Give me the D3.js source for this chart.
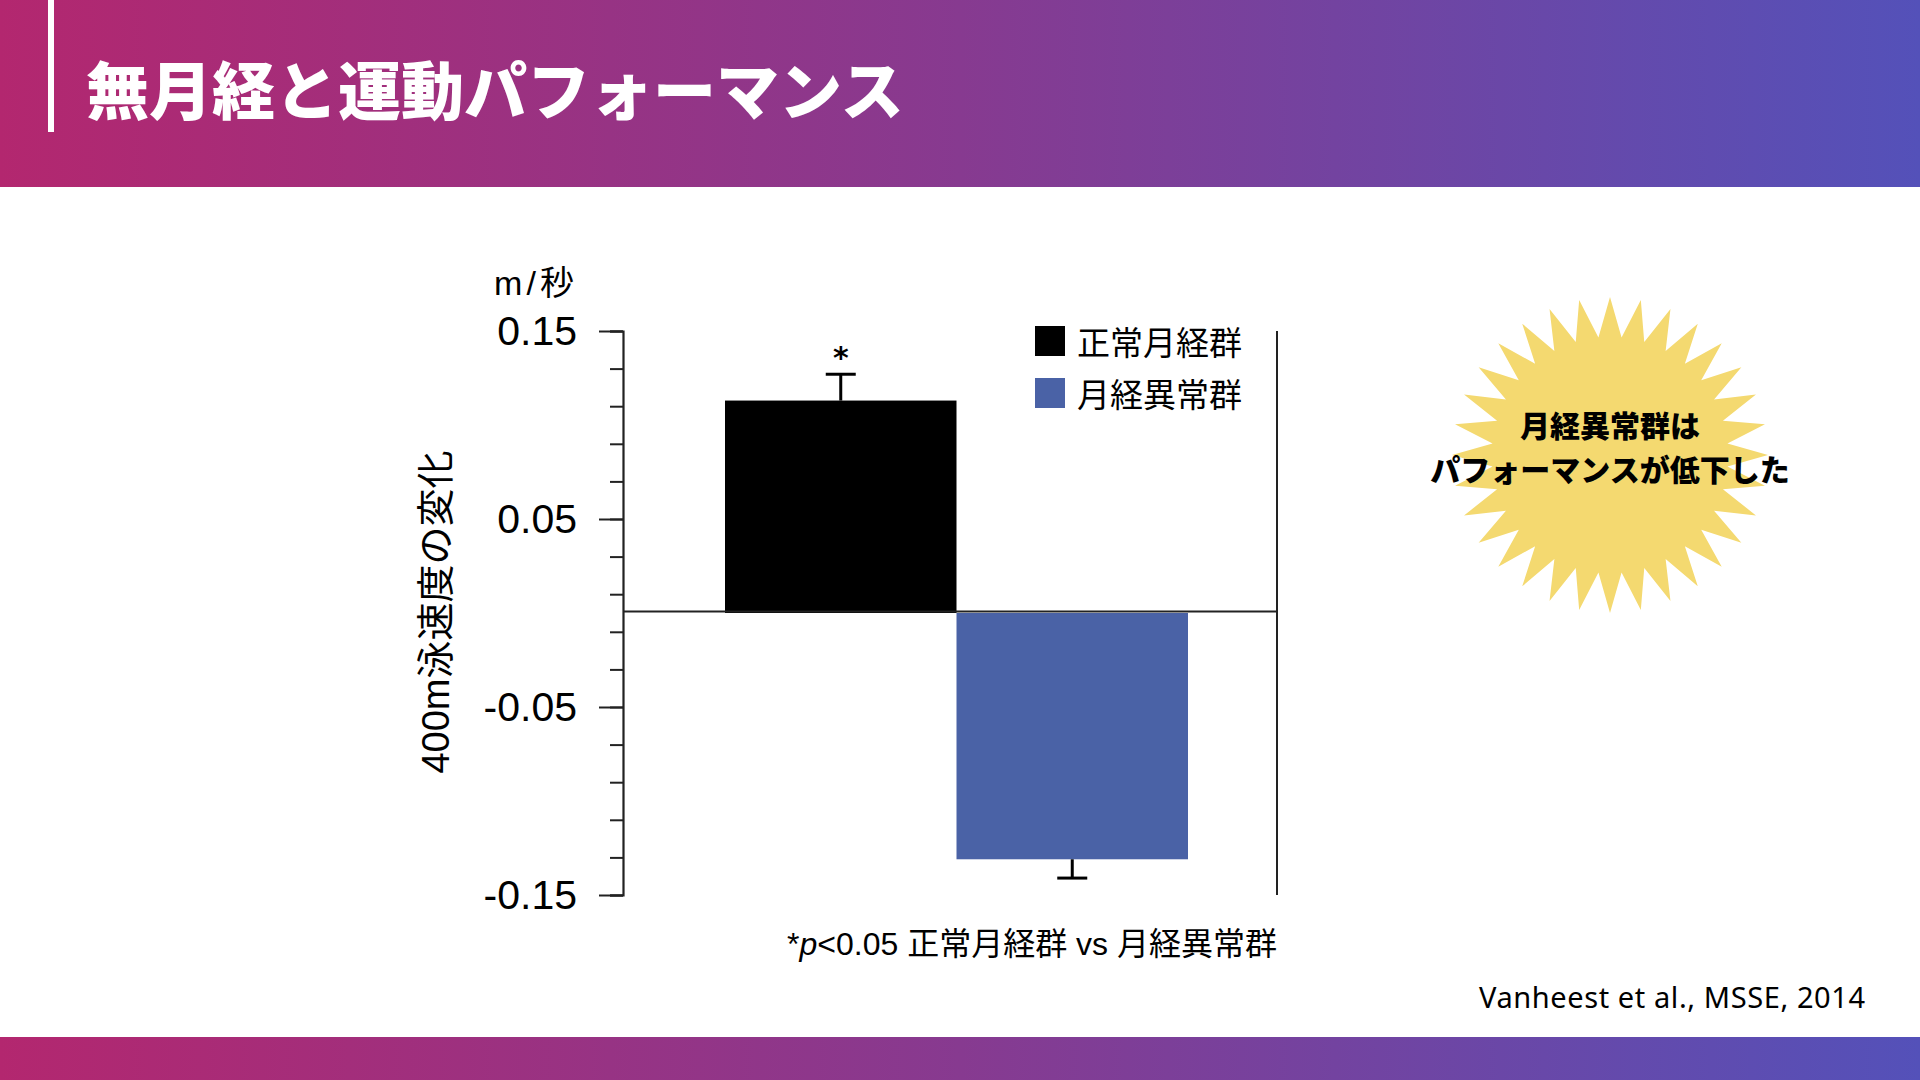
<!DOCTYPE html>
<html>
<head>
<meta charset="utf-8">
<script src="https://cdn.jsdelivr.net/npm/d3@7"></script>
<style>
  html, body { margin: 0; padding: 0; background: #fff; }
  svg { display: block; }
</style>
</head>
<body>
<svg id="chart" width="1920" height="1080"></svg>
<script>
// ---- data ----
const categories = ["正常月経群", "月経異常群"];
const means = [0.113, -0.131];
const errors = [0.014, 0.010];
const significant = [true, false];
const barColors = ["#000000", "#4A62A6"];
const majorTicks = [0.15, 0.05, -0.05, -0.15];
const majorTickLabels = ["0.15", "0.05", "-0.05", "-0.15"];
const minorTicks = [0.15, 0.13, 0.11, 0.09, 0.07, 0.05, 0.03, 0.01, -0.01, -0.03, -0.05, -0.07, -0.09, -0.11, -0.13, -0.15];
const titleText = "無月経と運動パフォーマンス";
const yUnit = "m/秒";
const yTitle = "400m泳速度の変化";
const calloutLines = ["月経異常群は", "パフォーマンスが低下した"];
const citation = "Vanheest et al., MSSE, 2014";

const svg = d3.select("#chart");
const defs = svg.append("defs");
const grad = defs.append("linearGradient").attr("id", "band").attr("x1", "0%").attr("x2", "100%").attr("y1", "0%").attr("y2", "0%");
grad.append("stop").attr("offset", "0%").attr("stop-color", "#B3276F");
grad.append("stop").attr("offset", "50%").attr("stop-color", "#873A90");
grad.append("stop").attr("offset", "100%").attr("stop-color", "#5451B9");

// header
svg.append("rect").attr("x", 0).attr("y", 0).attr("width", 1920).attr("height", 187).attr("fill", "url(#band)");
svg.append("rect").attr("x", 48).attr("y", 0).attr("width", 6).attr("height", 132).attr("fill", "#fff");
svg.append("text").attr("x", 86).attr("y", 86)
  .attr("dominant-baseline", "central")
  .attr("font-family", "'Noto Sans CJK JP', sans-serif")
  .attr("font-weight", 900).attr("font-size", 63).attr("fill", "#fff")
  .text(titleText);
// footer band
svg.append("rect").attr("x", 0).attr("y", 1037).attr("width", 1920).attr("height", 43).attr("fill", "url(#band)");

// ---- chart ----
const plotLeft = 623, plotRight = 1277;
const y = d3.scaleLinear().domain([-0.15, 0.15]).range([895, 331]);
const x = d3.scaleBand().domain(categories).range([725, 1188]).paddingInner(0).paddingOuter(0);

const g = svg.append("g");

// minor ticks
const minorAxis = d3.axisLeft(y).tickValues(minorTicks).tickSize(13).tickFormat("");
g.append("g").attr("transform", `translate(${plotLeft},0)`).call(minorAxis)
  .call(s => s.selectAll("line").attr("stroke", "#222").attr("stroke-width", 2))
  .call(s => s.select(".domain").attr("stroke", "#222").attr("stroke-width", 2.2));

// major ticks w/ labels
const majorAxis = d3.axisLeft(y).tickValues(majorTicks).tickSize(24).tickPadding(22)
  .tickFormat((d, i) => majorTickLabels[i]);
g.append("g").attr("transform", `translate(${plotLeft},0)`).call(majorAxis)
  .call(s => s.select(".domain").remove())
  .call(s => s.selectAll("line").attr("stroke", "#222").attr("stroke-width", 2))
  .call(s => s.selectAll("text").attr("font-family", "'Liberation Sans', Arial, sans-serif")
      .attr("font-size", 41).attr("fill", "#000"));

// right border
g.append("line").attr("x1", plotRight).attr("x2", plotRight).attr("y1", y(0.15)).attr("y2", y(-0.15))
  .attr("stroke", "#222").attr("stroke-width", 2);

// bars
g.selectAll("rect.bar").data(categories).join("rect").attr("class", "bar")
  .attr("x", d => x(d)).attr("width", x.bandwidth())
  .attr("y", (d, i) => Math.min(y(0), y(means[i])))
  .attr("height", (d, i) => Math.abs(y(means[i]) - y(0)))
  .attr("fill", (d, i) => barColors[i]);

// zero line
g.append("line").attr("x1", plotLeft).attr("x2", plotRight).attr("y1", y(0) - 1.5).attr("y2", y(0) - 1.5)
  .attr("stroke", "#222").attr("stroke-width", 2);

// error bars
categories.forEach((c, i) => {
  const cx = x(c) + x.bandwidth() / 2;
  const end = means[i] + Math.sign(means[i]) * errors[i];
  g.append("line").attr("x1", cx).attr("x2", cx).attr("y1", y(means[i])).attr("y2", y(end))
    .attr("stroke", "#000").attr("stroke-width", 3);
  g.append("line").attr("x1", cx - 15).attr("x2", cx + 15).attr("y1", y(end)).attr("y2", y(end))
    .attr("stroke", "#000").attr("stroke-width", 3);
  if (significant[i]) {
    g.append("text").attr("x", cx).attr("y", y(end) - 6).attr("text-anchor", "middle")
      .attr("font-family", "'DejaVu Sans', sans-serif").attr("font-weight", "bold").attr("font-size", 30).attr("fill", "#000")
      .text("*");
  }
});

// unit label
g.append("text").attr("x", 536).attr("y", 283).attr("text-anchor", "middle").attr("dominant-baseline", "central")
  .attr("font-family", "'Liberation Sans', 'Noto Sans CJK JP', sans-serif").attr("font-size", 34)
  .attr("letter-spacing", 4).attr("fill", "#000")
  .text(yUnit);

// y title
g.append("text").attr("transform", "translate(436,612) rotate(-90)")
  .attr("text-anchor", "middle").attr("dominant-baseline", "central")
  .attr("font-family", "'Liberation Sans', 'Noto Sans CJK JP', sans-serif").attr("font-size", 38).attr("fill", "#000")
  .text(yTitle);

// legend
const legendY = [341, 393];
categories.forEach((c, i) => {
  g.append("rect").attr("x", 1035).attr("y", legendY[i] - 15).attr("width", 30).attr("height", 30).attr("fill", barColors[i]);
  g.append("text").attr("x", 1077).attr("y", legendY[i]).attr("dominant-baseline", "central")
    .attr("font-family", "'Noto Sans CJK JP', sans-serif").attr("font-size", 33).attr("fill", "#000")
    .text(c);
});

// footnote
const fn = g.append("text").attr("x", plotRight).attr("y", 944).attr("text-anchor", "end").attr("dominant-baseline", "central")
  .attr("font-family", "'Liberation Sans', 'Noto Sans CJK JP', sans-serif").attr("font-size", 32).attr("fill", "#000");
fn.append("tspan").text("*");
fn.append("tspan").attr("font-style", "italic").text("p");
fn.append("tspan").text("<0.05 " + categories[0] + " vs " + categories[1]);

// starburst callout
const nPts = 32, rOuter = 158, rInner = 118;
const starPts = d3.range(nPts * 2).map(k => [k * Math.PI / nPts, k % 2 === 0 ? rOuter : rInner]);
svg.append("path").attr("transform", "translate(1610,455)")
  .attr("d", d3.lineRadial().curve(d3.curveLinearClosed)(starPts))
  .attr("fill", "#F4D970");
calloutLines.forEach((t, i) => {
  svg.append("text").attr("x", 1610).attr("y", 424 + i * 44).attr("text-anchor", "middle").attr("dominant-baseline", "central")
    .attr("font-family", "'Noto Sans CJK JP', sans-serif").attr("font-weight", 900).attr("font-size", 30).attr("fill", "#000")
    .text(t);
});

// citation
svg.append("text").attr("x", 1865).attr("y", 1008).attr("text-anchor", "end")
  .attr("font-family", "'Noto Sans', sans-serif").attr("font-size", 29)
  .attr("textLength", 386).attr("lengthAdjust", "spacing").attr("fill", "#000")
  .text(citation);
</script>
</body>
</html>
